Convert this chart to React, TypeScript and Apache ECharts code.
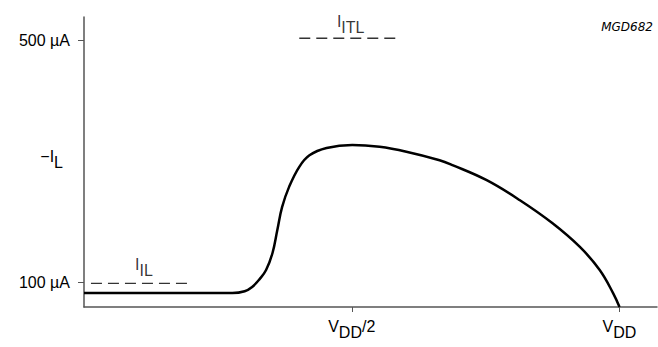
import React, { useEffect, useRef } from "react";
import * as echarts from "echarts";

// Curve: current (µA) vs input voltage (fraction of VDD)
const CURVE_X = [0, 0.1, 0.2, 0.277, 0.3, 0.314, 0.328, 0.34, 0.352, 0.361, 0.37, 0.383, 0.402, 0.421, 0.453, 0.501, 0.552, 0.602, 0.664, 0.688, 0.752, 0.814, 0.875, 0.926, 0.963, 0.988, 1.0];
const CURVE_Y = [83, 83, 83, 83, 86, 93, 106, 121, 149, 187, 225, 258, 291, 310, 322, 327, 324, 316, 302, 294, 269, 236, 198, 159, 121, 83, 60];

// Dashed limit lines
const ITL_X = [0.402, 0.589];
const ITL_Y = 503;
const IL_X = [0.013, 0.2];
const IL_Y = 99;

// Annotation label anchors (label centres)
const ANN_NAMES = ["ITL", "IL"];
const ANN_X = [0.498, 0.112];
const ANN_Y = [529, 129];

// Axis ticks / labels
const X_TICKS = [0.5, 1.0];
const X_TICK_LABELS = ["{m|V}{s|DD}{m|/2}", "{m|V}{s|DD}"];
const Y_TICKS = [100, 500];
const Y_TICK_LABELS = ["100 µA", "500 µA"];
const Y_IL_LABEL_VALUE = 306;
const X_MIN = 0;
const X_MAX = 1.07;
const Y_MIN = 60;
const Y_MAX = 538;

const FONT = "Liberation Sans";

const base = { fontSize: 16, lineHeight: 18, fontFamily: FONT, color: "#000", verticalAlign: "top", textBorderWidth: 0 };
const rich = {
  m: { ...base },
  s: { ...base, padding: [6, 0, 0, 0] },
  sr: { ...base, padding: [6, 7, 0, 0] },
};

export default function App() {
  const ref = useRef<HTMLDivElement>(null);
  useEffect(() => {
    document.body.style.margin = "0";
    if (!ref.current) return;
    const chart = echarts.init(ref.current, undefined, { renderer: "svg" });
    const axisColor = "#555";
    chart.setOption({
      animation: false,
      backgroundColor: "#fff",
      grid: { left: 84, right: 1, top: 17, bottom: 40 },
      xAxis: {
        type: "value",
        min: X_MIN,
        max: X_MAX,
        splitLine: { show: false },
        axisLine: { show: true, onZero: false, lineStyle: { color: axisColor, width: 1.5 } },
        axisTick: { show: true, customValues: X_TICKS, length: 5, lineStyle: { color: axisColor, width: 1 } },
        axisLabel: {
          customValues: X_TICKS,
          margin: 11,
          fontFamily: FONT,
          fontSize: 16,
          color: "#000",
          rich,
          formatter: (v: number) => {
            const i = X_TICKS.indexOf(v);
            return i >= 0 ? X_TICK_LABELS[i] : "";
          },
        },
      },
      yAxis: {
        type: "value",
        min: Y_MIN,
        max: Y_MAX,
        splitLine: { show: false },
        axisLine: { show: true, onZero: false, lineStyle: { color: axisColor, width: 1.5 } },
        axisTick: { show: true, customValues: Y_TICKS, length: 6, lineStyle: { color: axisColor, width: 1 } },
        axisLabel: {
          customValues: [...Y_TICKS, Y_IL_LABEL_VALUE],
          margin: 14,
          fontFamily: FONT,
          fontSize: 16,
          color: "#000",
          rich,
          formatter: (v: number) => {
            const i = Y_TICKS.indexOf(v);
            if (i >= 0) return Y_TICK_LABELS[i];
            return "{m|−I}{sr|L}";
          },
        },
      },
      graphic: [
        {
          type: "text",
          right: 5,
          top: 21,
          style: { text: "MGD682", font: `italic 12px "DejaVu Sans"`, fill: "#000" },
        },
      ],
      series: [
        {
          type: "line",
          data: ITL_X.map((x) => [x, ITL_Y]),
          symbol: "none",
          lineStyle: { color: "#333", width: 1.3, type: [11, 6] },
          silent: true,
        },
        {
          type: "line",
          data: IL_X.map((x) => [x, IL_Y]),
          symbol: "none",
          lineStyle: { color: "#333", width: 1.3, type: [11, 6] },
          silent: true,
        },
        {
          type: "line",
          data: CURVE_X.map((x, i) => [x, CURVE_Y[i]]),
          symbol: "none",
          smooth: 0.4,
          lineStyle: { color: "#000", width: 2.5 },
          silent: true,
          z: 5,
        },
        {
          type: "scatter",
          symbolSize: 0,
          silent: true,
          itemStyle: { color: "#000" },
          data: ANN_NAMES.map((n, i) => ({ name: n, value: [ANN_X[i], ANN_Y[i]] })),
          label: {
            show: true,
            position: "inside",
            color: "#000",
            textBorderWidth: 0,
            rich,
            formatter: (p: any) => (p.name === "ITL" ? "{m|I}{s|ITL}" : "{m|I}{s|IL}"),
          },
        },
      ],
    });
    return () => chart.dispose();
  }, []);
  return <div ref={ref} style={{ width: 658, height: 347 }} />;
}
